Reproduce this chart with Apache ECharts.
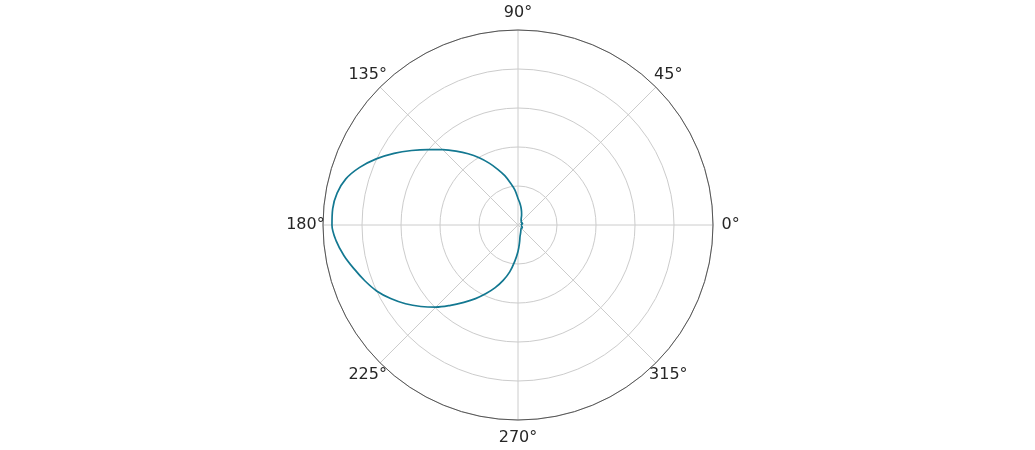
<!DOCTYPE html>
<html>
<head>
<meta charset="utf-8">
<script src="https://cdn.jsdelivr.net/npm/echarts@6/dist/echarts.min.js"></script>
<style>
html,body{margin:0;padding:0;background:#fff;}
#chart{width:1035px;height:450px;}
</style>
</head>
<body>
<div id="chart"></div>
<script>
// Angles in degrees (counter-clockwise from 0° at the right), 5° steps
const angles = [0,5,10,15,20,25,30,35,40,45,50,55,60,65,70,75,80,85,
                90,95,100,105,110,115,120,125,130,135,140,145,150,155,160,165,170,175,
                180,185,190,195,200,205,210,215,220,225,230,235,240,245,250,255,260,265,
                270,275,280,285,290,295,300,305,310,315,320,325,330,335,340,345,350,355,360];
// Radius values
const radii = [0.07,0.08,0.10,0.12,0.13,0.12,0.11,0.11,0.11,0.12,0.13,0.14,0.16,0.20,0.27,0.35,0.45,0.56,
               0.68,0.90,1.09,1.31,1.52,1.75,1.99,2.23,2.47,2.73,3.01,3.33,3.67,4.01,4.32,4.57,4.71,4.77,
               4.77,4.68,4.53,4.35,4.18,4.00,3.77,3.52,3.25,2.98,2.69,2.42,2.18,1.94,1.71,1.47,1.22,0.93,
               0.68,0.45,0.30,0.24,0.20,0.17,0.15,0.13,0.12,0.12,0.12,0.13,0.14,0.12,0.10,0.09,0.08,0.07,0.07];
const angleTicks = [0,45,90,135,180,225,270,315];
const radiusTicks = [0,1,2,3,4,5];

const rMax = radiusTicks[radiusTicks.length-1];
const labelR = rMax * 1.09; // label centres just outside the outer circle

const chart = echarts.init(document.getElementById('chart'), null, {renderer:'canvas'});
const data = angles.map((a,i)=>[radii[i], a]);
chart.setOption({
  animation:false,
  backgroundColor:'#ffffff',
  polar:{center:[518,225], radius:195},
  angleAxis:{
    type:'value', min:0, max:360, interval:45, startAngle:0, clockwise:false,
    axisLine:{show:true, lineStyle:{color:'#555555', width:1}},
    axisTick:{show:false},
    axisLabel:{show:false},
    splitLine:{show:true, lineStyle:{color:'#cccccc', width:1}}
  },
  radiusAxis:{
    type:'value', min:radiusTicks[0], max:rMax, interval:1,
    axisLine:{show:false}, axisTick:{show:false}, axisLabel:{show:false},
    splitLine:{show:true, lineStyle:{color:'#cccccc', width:1}}
  },
  series:[{
    type:'line', coordinateSystem:'polar', data:data, showSymbol:false,
    smooth:0.35,
    lineStyle:{color:'#137891', width:1.7}
  },{
    type:'scatter', coordinateSystem:'polar', clip:false, silent:true,
    data: angleTicks.map(a=>[labelR, a]),
    symbolSize:1, itemStyle:{color:'rgba(0,0,0,0)', opacity:1},
    label:{show:true, position:'inside', color:'#262626', fontSize:16,
      fontFamily:'DejaVu Sans', align:'center', verticalAlign:'middle',
      formatter:function(p){ return p.value[1]+'°'; }}
  }]
});
</script>
</body>
</html>
